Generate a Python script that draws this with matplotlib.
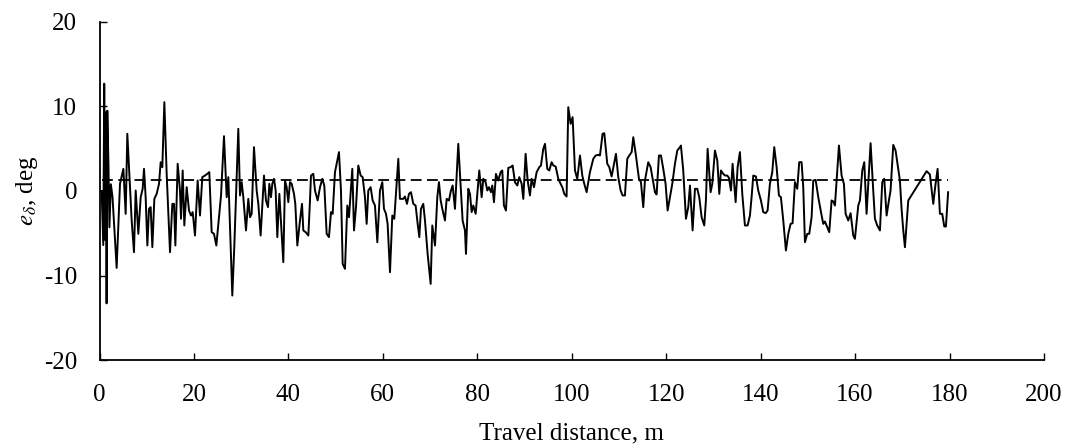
import matplotlib
matplotlib.use("Agg")
import matplotlib.pyplot as plt

# travel distance (m) and steering error (deg)
dist = [0.45, 0.8, 1.0, 1.2, 1.35, 1.5, 1.65, 1.9, 2.1, 2.4, 2.75, 3.63,
        4.34, 5.05, 5.54, 5.89, 6.46, 6.81, 7.30, 7.66, 8.22, 8.72, 9.14, 9.42,
        9.77, 10.13, 10.48, 10.83, 11.19, 11.61, 12.10, 12.60, 12.95, 13.30, 13.73, 14.22,
        14.93, 15.42, 15.77, 16.06, 16.55, 17.04, 17.26, 17.61, 17.96, 18.46, 18.95, 19.37,
        19.73, 20.22, 20.78, 21.28, 21.77, 22.34, 22.83, 23.25, 23.75, 24.24, 24.74, 25.73,
        26.36, 26.93, 27.28, 27.77, 28.12, 28.55, 29.39, 29.75, 30.10, 30.45, 31.02, 31.51,
        31.87, 32.22, 32.71, 33.28, 33.63, 34.12, 34.83, 35.25, 35.68, 35.96, 36.31, 36.59,
        36.95, 37.30, 37.65, 38.08, 38.36, 38.92, 39.28, 39.63, 39.98, 40.33, 40.69, 41.18,
        41.46, 41.89, 42.45, 42.88, 43.16, 43.65, 44.22, 44.57, 44.78, 45.27, 45.63, 46.19,
        46.69, 47.18, 47.60, 48.10, 48.59, 49.02, 49.37, 49.86, 50.71, 51.13, 51.49, 51.98,
        52.47, 52.83, 53.53, 53.89, 54.31, 54.80, 55.30, 55.72, 56.21, 56.57, 56.92, 57.41,
        57.84, 58.33, 58.83, 59.39, 59.88, 60.24, 60.66, 61.01, 61.51, 62.00, 62.42, 63.27,
        63.62, 64.33, 64.68, 65.11, 65.53, 65.95, 66.45, 66.94, 67.37, 67.72, 68.07, 68.56,
        68.92, 69.48, 70.12, 70.47, 71.04, 71.53, 71.88, 72.24, 72.59, 73.15, 73.51, 74.00,
        74.42, 74.78, 75.27, 75.97, 76.54, 76.89, 77.39, 77.60, 78.09, 78.45, 78.80, 79.15,
        79.65, 80.42, 80.92, 81.27, 81.76, 82.12, 82.47, 82.89, 83.17, 83.53, 83.95, 84.44,
        84.94, 85.29, 85.64, 86.07, 86.56, 87.06, 87.48, 87.97, 88.47, 88.89, 89.39, 89.74,
        90.23, 90.66, 91.15, 91.50, 92.00, 92.56, 93.13, 93.48, 93.97, 94.33, 94.82, 95.24,
        95.74, 96.09, 96.59, 97.15, 97.64, 98.00, 98.42, 98.91, 99.26, 99.76, 100.18, 100.68,
        101.17, 101.74, 102.23, 102.65, 103.15, 103.85, 104.56, 105.05, 105.62, 105.97, 106.53, 106.89,
        107.52, 107.95, 108.44, 109.36, 109.85, 110.35, 110.77, 111.26, 111.76, 112.18, 112.68, 113.03,
        113.59, 114.23, 114.65, 115.14, 115.50, 116.20, 116.70, 117.12, 117.62, 117.97, 118.46, 118.89,
        119.38, 119.87, 120.30, 120.79, 121.29, 121.85, 122.35, 122.91, 123.12, 123.61, 124.18, 124.67,
        125.03, 125.59, 126.09, 126.58, 127.00, 127.50, 128.06, 128.41, 128.77, 129.40, 129.76, 130.32,
        130.82, 131.24, 131.59, 132.08, 132.44, 132.93, 133.28, 133.71, 134.06, 134.34, 134.70, 135.12,
        135.61, 136.11, 136.67, 137.24, 137.73, 138.08, 138.44, 139.00, 139.49, 140.06, 140.55, 141.05,
        141.47, 141.96, 142.46, 142.88, 143.38, 143.87, 144.29, 144.79, 145.35, 145.85, 146.34, 146.76,
        147.26, 147.75, 148.17, 148.67, 149.02, 149.38, 149.87, 150.29, 150.79, 151.14, 151.64, 152.20,
        152.91, 153.26, 153.61, 154.11, 154.53, 155.02, 155.38, 155.73, 156.58, 157.14, 157.63, 157.99,
        158.55, 159.05, 159.61, 159.96, 160.67, 161.02, 161.52, 161.94, 162.43, 163.28, 163.84, 164.20,
        164.69, 165.26, 165.75, 166.17, 166.67, 167.16, 167.51, 168.08, 168.57, 169.13, 169.49, 169.84,
        170.20, 170.55, 171.26, 175.14, 175.84, 176.55, 177.04, 177.47, 177.96, 178.45, 178.88, 179.23,
        179.70]

err = [0.0, -6.4, 12.7, -5.8, 9.3, -13.3, 9.5, 3.0, -4.3, 0.8, -0.7, -9.1,
       0.85, 2.62, -2.70, 6.77, 0.45, -3.49, -7.24, 0.06, -5.07, -0.73, 0.26, 2.62,
       -0.73, -6.45, -2.11, -1.91, -6.65, -0.93, -0.34, 0.85, 3.41, 2.82, 10.51, 2.03,
       -7.24, -1.52, -1.52, -6.45, 3.22, 0.06, -3.29, 2.43, -4.08, 0.45, -2.31, -2.90,
       -2.50, -5.27, 1.24, -2.90, 1.64, 1.83, 2.03, 2.23, -4.87, -5.07, -6.45, -0.53,
       6.49, -0.73, 1.64, -6.65, -12.37, -6.45, 7.36, -0.53, 1.05, -0.73, -4.67, -0.93,
       -3.10, -2.70, 5.19, 0.06, -1.52, -5.27, 1.83, -1.12, -1.91, 0.85, -0.73, 0.85,
       1.44, 0.06, -5.46, -0.34, -3.10, -8.42, 1.24, 0.45, -1.32, 1.05, 0.85, -0.34,
       -1.52, -6.45, -3.49, -1.52, -4.67, -4.87, -5.27, -1.12, 1.83, 2.03, 0.06, -1.12,
       0.45, 1.44, 0.65, -5.07, -5.46, -2.50, -2.70, 2.23, 4.60, 0.06, -8.62, -9.21,
       -1.72, -3.10, 2.62, -4.67, -1.91, 3.02, 1.83, 1.64, -0.73, -3.89, 0.06, 0.45,
       -1.12, -1.72, -6.06, 0.06, 1.05, -2.11, -2.70, -3.89, -9.61, -2.90, -3.29, 3.81,
       -0.93, -0.93, -0.65, -1.52, -0.34, -0.14, -1.52, -1.72, -3.89, -5.46, -2.11, -1.52,
       -3.49, -7.44, -10.99, -4.08, -6.45, -0.73, 1.05, -1.12, -2.11, -3.49, -0.93, -1.12,
       0.06, 0.65, -2.11, 5.58, 0.06, -3.49, -4.67, -7.44, 0.26, -0.34, -2.50, -1.72,
       -2.70, 2.43, -0.73, 1.44, 1.05, 0.06, 0.45, -0.14, 0.65, -1.32, 2.03, 1.24,
       2.23, 2.43, -1.72, -2.31, 2.74, 2.82, 3.02, 1.05, 0.65, 1.64, 0.85, -0.93,
       4.40, 1.24, -0.53, 1.44, 0.45, 2.23, 2.82, 3.02, 4.99, 5.58, 2.62, 2.43,
       3.41, 3.02, 2.90, 1.44, 0.85, 0.45, -0.34, -0.65, 9.92, 7.95, 8.74, 2.43,
       1.44, 4.20, 1.83, 0.85, -0.14, 2.23, 3.81, 4.20, 4.28, 4.20, 6.77, 6.84,
       3.22, 2.82, 1.72, 4.40, 1.64, 0.06, -0.53, -0.53, 3.81, 4.20, 4.60, 6.37,
       4.20, 1.44, 1.05, -1.91, 1.24, 3.41, 2.82, 1.44, -0.14, -0.41, 4.20, 4.20,
       2.62, 0.85, -2.31, -0.73, 0.85, 3.22, 4.79, 5.19, 5.38, 2.43, -3.29, -1.91,
       0.65, -4.67, 0.26, 0.26, -0.73, -3.10, -4.08, -1.12, 4.99, -0.14, 0.85, 4.79,
       3.61, -0.34, 2.43, 2.03, 1.83, 1.83, 1.56, 0.06, 3.22, 1.24, -1.32, 2.82,
       4.60, -0.34, -4.08, -4.08, -2.90, -0.73, 1.83, 1.72, 0.06, -1.12, -2.50, -2.62,
       -2.31, 0.85, 2.23, 5.19, 2.82, -0.53, -0.73, -3.49, -7.04, -5.07, -3.89, -3.81,
       1.05, 0.26, 3.41, 3.41, 0.45, -6.06, -5.07, -5.07, -3.10, 1.24, 1.32, -0.73,
       -2.90, -3.89, -3.61, -4.28, -4.87, -1.12, -1.24, -1.72, 5.38, 1.83, 0.85, -2.70,
       -3.49, -2.62, -5.27, -5.66, -1.72, -1.12, 2.43, 3.41, -2.70, 5.66, 0.06, -3.29,
       -4.08, -4.67, 1.05, 1.44, -2.90, -1.12, 0.06, 5.46, 4.79, 2.62, 1.24, -2.11,
       -4.67, -6.65, -1.12, 2.35, 1.95, -1.52, 0.85, 2.62, -2.70, -2.70, -4.20, -4.20,
       -0.14]

mean_err = 1.3   # dashed reference level

plt.rcParams['font.family'] = ['Liberation Serif', 'DejaVu Serif']
plt.rcParams['mathtext.fontset'] = 'stix'
plt.rcParams['axes.unicode_minus'] = False

fig = plt.figure(figsize=(10.70, 4.46), dpi=100)
ax = fig.add_axes([0.093, 0.1928, 0.8827, 0.7579])

ax.plot(dist, err, color='black', linewidth=1.4)
ax.plot([dist[0], dist[-1]], [mean_err, mean_err], color='black', linewidth=1.3,
        dashes=(6, 3))

ax.set_xlim(0, 200)
ax.set_ylim(-20, 20)
ax.set_xticks(range(0, 201, 20))
ax.set_yticks(range(-20, 21, 10))

ax.spines['top'].set_visible(False)
ax.spines['right'].set_visible(False)
for s in ['left', 'bottom']:
    ax.spines[s].set_linewidth(1.3)

ax.tick_params(direction='in', length=5, width=1, labelsize=18)
ax.tick_params(axis='y', pad=16)
ax.tick_params(axis='x', pad=17)

ax.set_xlabel('Travel distance, m', fontsize=18, labelpad=12)
ax.set_ylabel(r'$e_{\delta}$, deg', fontsize=18, labelpad=3)

fig.savefig('out.png', dpi=100)
